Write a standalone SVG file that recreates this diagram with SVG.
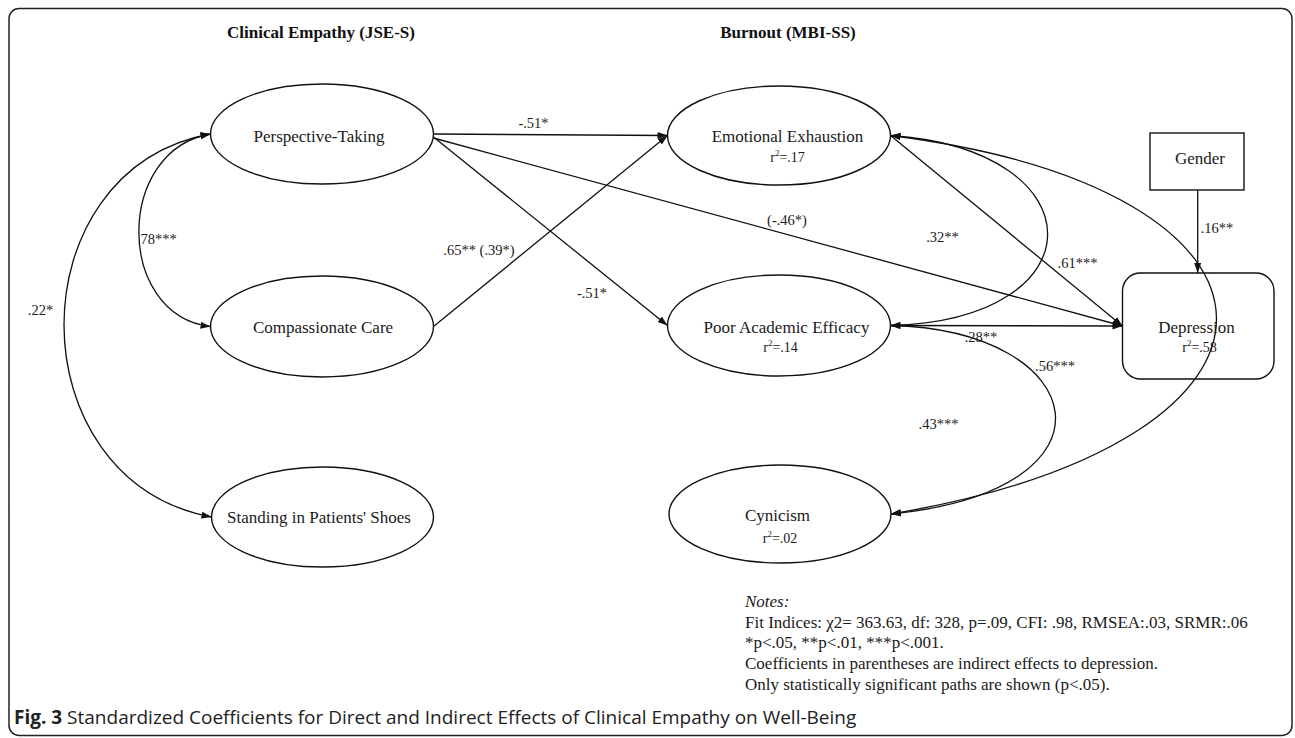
<svg xmlns="http://www.w3.org/2000/svg" width="1295" height="738" viewBox="0 0 1295 738">
  <style>
    .shape { fill: none; stroke: #111111; stroke-width: 1.4; }
    .edge { fill: none; stroke: #111111; stroke-width: 1.3; }
    .lbl { font-family: "Liberation Serif", "Times New Roman", serif; font-size: 17px; fill: #1a1a1a; text-anchor: middle; }
    .r2 { font-family: "Liberation Serif", "Times New Roman", serif; font-size: 14px; fill: #1a1a1a; text-anchor: middle; }
    .sup { font-size: 9px; }
    .elbl { font-family: "Liberation Serif", "Times New Roman", serif; font-size: 14.5px; fill: #1a1a1a; text-anchor: middle; }
    .title { font-family: "Liberation Serif", "Times New Roman", serif; font-size: 17px; font-weight: bold; fill: #111111; text-anchor: middle; }
    .note { font-family: "Liberation Serif", "Times New Roman", serif; font-size: 17px; fill: #1a1a1a; }
    .cap { font-family: "Open Sans", "Noto Sans", sans-serif; font-size: 19px; fill: #222222; }
  </style>
  <defs>
    <marker id="arr" markerUnits="userSpaceOnUse" markerWidth="11" markerHeight="8" refX="10" refY="3.5" orient="auto-start-reverse" viewBox="0 0 11 8">
      <path d="M0,0 L10,3.5 L0,7 z" fill="#111111"/>
    </marker>
  </defs>

  <rect x="9" y="8.5" width="1283" height="727" rx="10" ry="10" fill="#ffffff" stroke="#222222" stroke-width="1.5"/>

  <text class="title" x="321" y="38">Clinical Empathy (JSE-S)</text>
  <text class="title" x="788" y="38">Burnout (MBI-SS)</text>

  <g id="connectors">
    <line class="edge" x1="433.5" y1="134" x2="667.5" y2="135.5" marker-end="url(#arr)"/>
    <line class="edge" x1="433.5" y1="326.5" x2="667.5" y2="135.5" marker-end="url(#arr)"/>
    <line class="edge" x1="433.5" y1="137" x2="667.5" y2="325.5" marker-end="url(#arr)"/>
    <line class="edge" x1="433.5" y1="138" x2="1122.5" y2="326" marker-end="url(#arr)"/>
    <line class="edge" x1="890.5" y1="135.5" x2="1122.5" y2="326" marker-end="url(#arr)"/>
    <line class="edge" x1="890.5" y1="325.5" x2="1122.5" y2="326" marker-end="url(#arr)"/>
    <line class="edge" x1="1197.7" y1="190" x2="1197.7" y2="273" marker-end="url(#arr)"/>
    <path class="edge" d="M210.5,134 C115,150 115,315 210.5,326.5" marker-start="url(#arr)" marker-end="url(#arr)"/>
    <path class="edge" d="M210.5,134 C15,170 15,480 211.5,517" marker-start="url(#arr)" marker-end="url(#arr)"/>
    <path class="edge" d="M890.5,135.5 C1100,150 1100,320 890.5,325.5" marker-start="url(#arr)" marker-end="url(#arr)"/>
    <path class="edge" d="M890.5,325.5 C1090,330 1130,490 891,514" marker-start="url(#arr)" marker-end="url(#arr)"/>
    <path class="edge" d="M890.5,135.5 C1320,190 1330,440 891,514" marker-start="url(#arr)" marker-end="url(#arr)"/>

    <text class="elbl" x="533.5" y="128">-.51*</text>
    <text class="elbl" x="479" y="255">.65** (.39*)</text>
    <text class="elbl" x="592" y="298">-.51*</text>
    <text class="elbl" x="158.5" y="244">78***</text>
    <text class="elbl" x="40.5" y="315">.22*</text>
    <text class="elbl" x="787" y="225">(-.46*)</text>
    <text class="elbl" x="942.5" y="242">.32**</text>
    <text class="elbl" x="1217" y="233">.16**</text>
    <text class="elbl" x="1077.5" y="268">.61***</text>
    <text class="elbl" x="981" y="342">.28**</text>
    <text class="elbl" x="1055" y="371">.56***</text>
    <text class="elbl" x="938.5" y="429">.43***</text>
  </g>

  <g id="node-pt">
    <ellipse class="shape" cx="322" cy="134" rx="111.5" ry="50"/>
    <text class="lbl" x="319" y="142">Perspective-Taking</text>
  </g>
  <g id="node-cc">
    <ellipse class="shape" cx="322" cy="326.5" rx="111.5" ry="50.5"/>
    <text class="lbl" x="323" y="333">Compassionate Care</text>
  </g>
  <g id="node-sps">
    <ellipse class="shape" cx="322.5" cy="517" rx="111" ry="50"/>
    <text class="lbl" x="319" y="523">Standing in Patients' Shoes</text>
  </g>
  <g id="node-ee">
    <ellipse class="shape" cx="779" cy="135.5" rx="111.5" ry="49.5"/>
    <text class="lbl" x="787.5" y="142">Emotional Exhaustion</text>
    <text class="r2" x="787.5" y="162">r<tspan class="sup" dy="-6">2</tspan><tspan dy="6">=.17</tspan></text>
  </g>
  <g id="node-pae">
    <ellipse class="shape" cx="779" cy="325.5" rx="111.5" ry="50.5"/>
    <text class="lbl" x="786.5" y="333">Poor Academic Efficacy</text>
    <text class="r2" x="780.5" y="352">r<tspan class="sup" dy="-6">2</tspan><tspan dy="6">=.14</tspan></text>
  </g>
  <g id="node-cyn">
    <ellipse class="shape" cx="780" cy="514" rx="111" ry="49"/>
    <text class="lbl" x="777.5" y="521">Cynicism</text>
    <text class="r2" x="780" y="543">r<tspan class="sup" dy="-6">2</tspan><tspan dy="6">=.02</tspan></text>
  </g>
  <g id="node-gender">
    <rect class="shape" x="1150" y="133" width="94" height="57"/>
    <text class="lbl" x="1200" y="164">Gender</text>
  </g>
  <g id="node-dep">
    <rect class="shape" x="1122.5" y="273" width="151.5" height="106" rx="18" ry="18"/>
    <text class="lbl" x="1196.5" y="333">Depression</text>
    <text class="r2" x="1199.5" y="352">r<tspan class="sup" dy="-6">2</tspan><tspan dy="6">=.58</tspan></text>
  </g>

  <g id="notes">
    <text class="note" x="745" y="607" font-style="italic">Notes:</text>
    <text class="note" x="745" y="628">Fit Indices: χ2= 363.63, df: 328, p=.09, CFI: .98, RMSEA:.03, SRMR:.06</text>
    <text class="note" x="745" y="648">*p&lt;.05, **p&lt;.01, ***p&lt;.001.</text>
    <text class="note" x="745" y="669">Coefficients in parentheses are indirect effects to depression.</text>
    <text class="note" x="745" y="690">Only statistically significant paths are shown (p&lt;.05).</text>
  </g>

  <text class="cap" x="14" y="724"><tspan font-weight="bold">Fig. 3</tspan> Standardized Coefficients for Direct and Indirect Effects of Clinical Empathy on Well-Being</text>
</svg>
